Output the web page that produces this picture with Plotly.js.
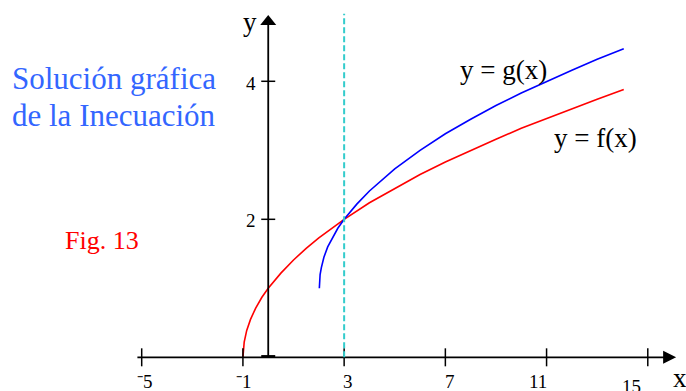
<!DOCTYPE html>
<html>
<head>
<meta charset="utf-8">
<script src="https://cdn.plot.ly/plotly-3.0.1.min.js"></script>
<style>html,body{margin:0;padding:0;background:#fff;}#chart{width:686px;height:391px;}</style>
</head>
<body>
<div id="chart"></div>
<script>
// ---- data ----
var fX = [-1, -0.95, -0.85, -0.7, -0.5, -0.25, 0, 0.5, 1, 1.5, 2, 2.5, 3, 4, 5, 6, 7, 8, 9, 10, 11, 12, 13, 14.05];
var fY = [0, 0.22, 0.39, 0.55, 0.71, 0.87, 1.0, 1.22, 1.41, 1.58, 1.73, 1.87, 2.0, 2.24, 2.45, 2.65, 2.83, 3.0, 3.16, 3.32, 3.46, 3.61, 3.74, 3.88];
var gX = [2.02, 2.05, 2.1, 2.2, 2.35, 2.5, 2.75, 3, 3.5, 4, 5, 6, 7, 8, 9, 10, 11, 12, 13, 14.05];
var gY = [1.0, 1.2, 1.3, 1.45, 1.6, 1.7, 1.87, 2.0, 2.22, 2.41, 2.73, 3.0, 3.24, 3.45, 3.65, 3.83, 4.0, 4.16, 4.32, 4.47];
var xTicks = [-5, -1, 3, 7, 11, 15];
var xTickText = ['\u207B5', '\u207B1', '3', '7', '11', '15'];
var yTicks = [0, 2, 4];
var yTickText = ['', '2', '4'];
var solutionX = 3;
var xAxisStart = -5.17, xAxisEnd = 16.12;
var yAxisEnd = 4.96;

// ---- layout helpers (pixel -> paper) ----
var W = 686, H = 391;
function px(x){ return x / W; }
function py(y){ return 1 - y / H; }
var FONT = 'Liberation Serif, Times New Roman, serif';

var traces = [
  {x: fX, y: fY, mode: 'lines', line: {color: '#ff0000', width: 1.6}, hoverinfo: 'skip'},
  {x: gX, y: gY, mode: 'lines', line: {color: '#0000ff', width: 1.6}, hoverinfo: 'skip'}
];

var shapes = [];
// x axis
shapes.push({type: 'line', xref: 'x', yref: 'y', x0: xAxisStart, x1: xAxisEnd - 0.45, y0: 0, y1: 0, line: {color: '#000', width: 1.8}});
// y axis
shapes.push({type: 'line', xref: 'x', yref: 'y', x0: 0, x1: 0, y0: 0, y1: yAxisEnd - 0.12, line: {color: '#000', width: 1.8}});
// arrowheads
shapes.push({type: 'path', xref: 'x', yref: 'y', xsizemode: 'pixel', ysizemode: 'pixel', xanchor: xAxisEnd, yanchor: 0,
  path: 'M -13,6.5 L 0,0 L -13,-6.5 Z', fillcolor: '#000', line: {width: 0}});
shapes.push({type: 'path', xref: 'x', yref: 'y', xsizemode: 'pixel', ysizemode: 'pixel', xanchor: 0, yanchor: yAxisEnd,
  path: 'M -8,-10 L 0,0 L 8,-10 Z', fillcolor: '#000', line: {width: 0}});
// x ticks
xTicks.forEach(function(t){
  shapes.push({type: 'line', xref: 'x', yref: 'y', xsizemode: 'pixel', ysizemode: 'pixel', xanchor: t, yanchor: 0,
    x0: 0, x1: 0, y0: -9, y1: 9, line: {color: '#000', width: 1.5}});
});
// y ticks
yTicks.forEach(function(t){
  shapes.push({type: 'line', xref: 'x', yref: 'y', xsizemode: 'pixel', ysizemode: 'pixel', xanchor: 0, yanchor: t,
    x0: -7, x1: 7, y0: t === 0 ? 1 : 0, y1: t === 0 ? 1 : 0, line: {color: '#000', width: t === 0 ? 2.5 : 1.5}});
});
// dashed solution line
shapes.push({type: 'line', xref: 'x', yref: 'y', x0: solutionX, x1: solutionX, y0: 0, y1: 4.98,
  line: {color: '#33cccc', width: 2, dash: '6px,3px'}});

var annotations = [];
function txt(t, x, y, size, color, xanchor){
  annotations.push({text: t, xref: 'paper', yref: 'paper', x: px(x), y: py(y), xanchor: xanchor || 'center', yanchor: 'middle',
    showarrow: false, font: {family: FONT, size: size, color: color}});
}
// x tick labels
var xLabelPx = [[145, 381], [244, 381], [348, 381], [450, 381], [538, 381], [631, 386]];
xTickText.forEach(function(s, i){ txt(s, xLabelPx[i][0], xLabelPx[i][1], 19, '#000'); });
// y tick labels
var yLabelPx = [null, [251, 221], [251, 83]];
yTickText.forEach(function(s, i){ if (s) txt(s, yLabelPx[i][0], yLabelPx[i][1], 19, '#000'); });
// axis names
txt('y', 250, 22, 27, '#000');
txt('x', 680, 378, 27, '#000');
// curve labels
txt('y = g(x)', 503, 70, 27, '#000');
txt('y = f(x)', 595, 138, 27, '#000');
// titles
txt('Solución gráfica', 10, 78, 31, '#3366ff', 'left');
txt('de la Inecuación', 10, 115, 31, '#3366ff', 'left');
txt('Fig. 13', 63, 240, 26, '#ff0000', 'left');

var layout = {
  width: W, height: H,
  margin: {l: 0, r: 0, t: 0, b: 0},
  paper_bgcolor: '#fff', plot_bgcolor: '#fff',
  showlegend: false,
  xaxis: {range: [-10.60, 16.51], visible: false, fixedrange: true},
  yaxis: {range: [-0.488, 5.178], visible: false, fixedrange: true},
  shapes: shapes,
  annotations: annotations
};

Plotly.newPlot('chart', traces, layout, {staticPlot: true, displayModeBar: false});
</script>
</body>
</html>
